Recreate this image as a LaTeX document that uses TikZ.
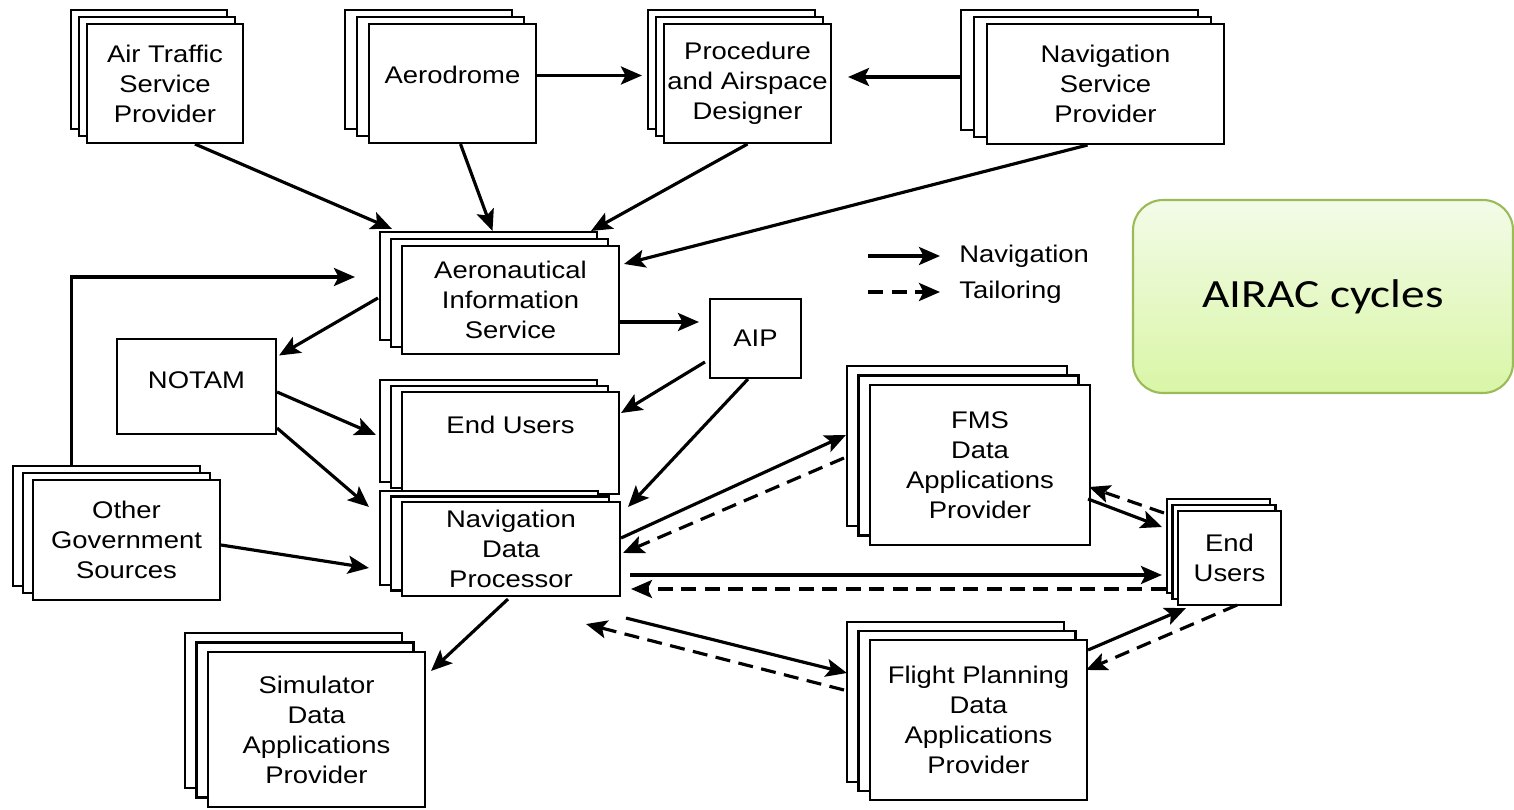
\documentclass[tikz,border=0pt]{standalone}
\usepackage{fontspec}
\setmainfont{Liberation Sans}[FakeStretch=1.14]
\newfontfamily\airacfont{Carlito}[FakeStretch=1.18]
\usepackage{tikz}
\usetikzlibrary{arrows.meta,calc,shadows}

\definecolor{airacTop}{RGB}{243,251,232}
\definecolor{airacBottom}{RGB}{217,246,166}
\definecolor{airacEdge}{RGB}{155,187,89}
\newcommand{\diagfont}{\fontsize{13.7}{17.1}\selectfont}

\begin{document}
\begin{tikzpicture}[
  x=0.02cm, y=-0.02cm,
  box/.style={draw, line width=1.2pt, fill=white, align=center, inner sep=0pt, font=\diagfont},
  stacked/.style 2 args={
    copy shadow={shadow xshift=-2*#1, shadow yshift=2*#2, line width=1.2pt},
    copy shadow={shadow xshift=-#1, shadow yshift=#2, line width=1.2pt}},
  nav/.style={line width=1.8pt, -{Stealth[length=0.42cm, width=0.36cm, inset=0.09cm]}},
  tail/.style={nav, dash pattern=on 0.3cm off 0.17cm}
]
\path[use as bounding box, fill=white] (0,0) rectangle (1514,810);

% Sources
\node[box, stacked={0.16cm}{0.14cm}, minimum width=3.12cm, minimum height=2.38cm] (atsp) at (165,83.5) {Air Traffic\\Service\\Provider};
\node[box, stacked={0.24cm}{0.14cm}, minimum width=3.34cm, minimum height=2.38cm, text depth=0.34cm] (aero) at (452.5,83.5) {Aerodrome};
\node[box, stacked={0.16cm}{0.14cm}, minimum width=3.34cm, minimum height=2.38cm] (proc) at (747.5,83.5) {Procedure\\and Airspace\\Designer};
\node[box, stacked={0.26cm}{0.14cm}, minimum width=4.74cm, minimum height=2.4cm] (nsp) at (1105.5,84) {Navigation\\Service\\Provider};
\node[box, stacked={0.2cm}{0.14cm}, minimum width=3.74cm, minimum height=2.4cm] (ogs) at (126.5,540) {Other\\Government\\Sources};

% AIS and its products
\node[box, stacked={0.22cm}{0.14cm}, minimum width=4.34cm, minimum height=2.16cm] (ais) at (510.5,300) {Aeronautical\\Information\\Service};
\node[box, minimum width=3.18cm, minimum height=1.9cm, text depth=0.26cm] (notam) at (196.5,386.5) {NOTAM};
\node[box, minimum width=1.82cm, minimum height=1.58cm] (aip) at (755.5,338.5) {AIP};
\node[box, stacked={0.22cm}{0.12cm}, minimum width=4.34cm, minimum height=2.04cm, text depth=0.72cm] (eu1) at (510.5,443) {End Users};
\node[box, stacked={0.22cm}{0.11cm}, minimum width=4.36cm, minimum height=1.88cm] (ndp) at (511,549) {Navigation\\Data\\Processor};

% Data application providers
\node[box, stacked={0.23cm}{0.19cm}, minimum width=4.34cm, minimum height=3.1cm] (sdap) at (316.5,729.5) {Simulator\\Data\\Applications\\Provider};
\node[box, stacked={0.23cm}{0.19cm}, minimum width=4.4cm, minimum height=3.2cm] (fms) at (980,465) {FMS\\Data\\Applications\\Provider};
\node[box, stacked={0.23cm}{0.18cm}, minimum width=4.34cm, minimum height=3.2cm] (fpdap) at (978.5,720) {Flight Planning\\Data\\Applications\\Provider};
\node[box, stacked={0.11cm}{0.12cm}, minimum width=2.06cm, minimum height=1.88cm] (eu2) at (1229.5,558) {End\\Users};

% AIRAC note
\node[draw=airacEdge, line width=1.2pt, rounded corners=0.6cm, top color=airacTop, bottom color=airacBottom,
  minimum width=7.6cm, minimum height=3.86cm, font=\airacfont\fontsize{22.8}{27}\selectfont] (airac) at (1323,296.5) {AIRAC cycles};

% Legend
\coordinate (navA) at (868,256);
\coordinate (navB) at (940,256);
\coordinate (tailA) at (868,292);
\coordinate (tailB) at (940,292);
\draw[nav] (navA) -- (navB);
\draw[tail] (tailA) -- (tailB);
\node[anchor=west, inner sep=0pt, font=\diagfont] (navtxt) at (959,256) {Navigation};
\node[anchor=west, inner sep=0pt, font=\diagfont] (tailtxt) at (959,292) {Tailoring};

% Into AIS
\draw[nav] ($(atsp.south)+(30,0)$) -- ($(ais.north west)+(-9,-16)$);
\draw[nav] ($(aero.south)+(8,0)$) -- ($(ais.north)+(-18,-14)$);
\draw[nav] (proc.south) -- ($(ais.north east)+(-29,-14)$);
\draw[nav] ($(nsp.south)+(-18,0)$) -- ($(ais.north east)+(4,19)$);
\draw[nav] ($(aero.east)+(0,-8)$) -- ($(proc.west)+(-21,-8)$);
\draw[nav] ($(nsp.west)+(-26,-7)$) -- ($(proc.east)+(16,-6.5)$);
\draw[nav] ($(ogs.north)+(-55,-14)$) |- ($(ais.west)+(-46,-23)$);

% From AIS, NOTAM and AIP
\draw[nav] ($(ais.west)+(-23,-2)$) -- ($(notam.east)+(2,-31)$);
\draw[nav] ($(ais.east)+(0,22)$) -- ($(aip.west)+(-10,-16.5)$);
\draw[nav] ($(notam.east)+(0,5.5)$) -- ($(eu1.west)+(-25,-8)$);
\draw[nav] ($(notam.south east)+(0,-7)$) -- ($(ndp.north west)+(-32,6)$);
\draw[nav] ($(aip.west)+(-4,23.5)$) -- ($(eu1.east)+(1,-30)$);
\draw[nav] ($(aip.south)+(-7.5,0)$) -- ($(ndp.north east)+(7,6)$);
\draw[nav] ($(ogs.east)+(0,5)$) -- ($(ndp.west)+(-32,19)$);

% Navigation Data Processor
\draw[nav] ($(ndp.east)+(0,-11)$) -- ($(fms.west)+(-23,-30)$);
\draw[tail] ($(fms.west)+(-25,-7)$) -- ($(ndp.east)+(2,4)$);
\draw[nav] ($(ndp.east)+(9,26)$) -- ($(eu2.west)+(-15,17)$);
\draw[tail] ($(eu2.west)+(-11,31)$) -- ($(ndp.east)+(10,40)$);
\draw[nav] ($(ndp.south east)+(5,21)$) -- ($(fpdap.west)+(-22,-47)$);
\draw[tail] ($(fpdap.west)+(-25,-30)$) -- ($(ndp.south east)+(-35,27)$);
\draw[nav] ($(ndp.south)+(-3,2)$) -- ($(sdap.north east)+(5,20)$);

% End users
\draw[nav] ($(fms.east)+(-3,34)$) -- ($(eu2.west)+(-15,-31)$);
\draw[tail] ($(eu2.west)+(-13,-45)$) -- ($(fms.east)+(-2,22)$);
\draw[nav] ($(fpdap.east)+(0,-70)$) -- ($(eu2.south west)+(9,2)$);
\draw[tail] ($(eu2.south)+(7.5,-1)$) -- ($(fpdap.east)+(-2,-50)$);

\end{tikzpicture}
\end{document}
